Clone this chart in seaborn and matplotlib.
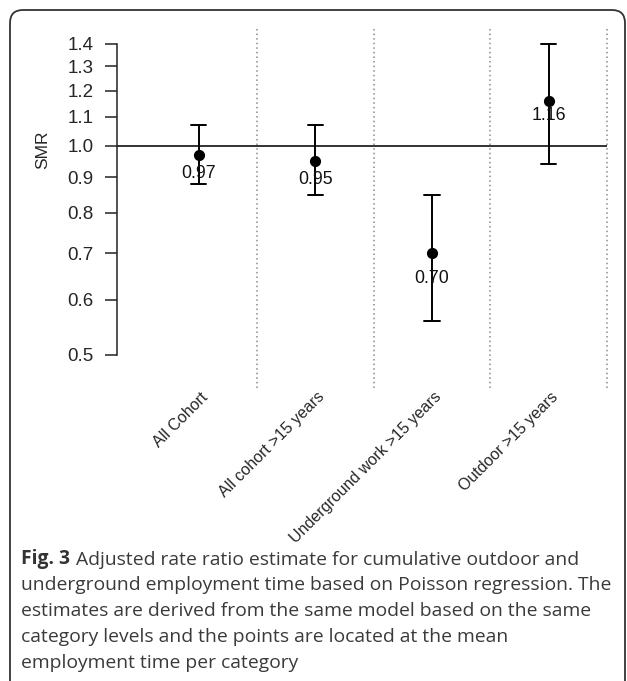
import numpy as np
import pandas as pd
import matplotlib.pyplot as plt
import seaborn as sns
from matplotlib.patches import FancyBboxPatch
from matplotlib.ticker import NullLocator
from matplotlib.transforms import ScaledTranslation

# --------------- DATA ---------------
groups = ["All Cohort", "All cohort >15 years", "Underground work >15 years", "Outdoor >15 years"]
smr = [0.97, 0.95, 0.70, 1.16]
ci_low = [0.88, 0.85, 0.56, 0.94]
ci_high = [1.07, 1.07, 0.85, 1.40]
y_ticks = [0.5, 0.6, 0.7, 0.8, 0.9, 1.0, 1.1, 1.2, 1.3, 1.4]

caption_bold = "Fig. 3"
caption_lines = [
    "Adjusted rate ratio estimate for cumulative outdoor and",
    "underground employment time based on Poisson regression. The",
    "estimates are derived from the same model based on the same",
    "category levels and the points are located at the mean",
    "employment time per category",
]

# long form: lower, estimate, upper per group -> median is the estimate, full range is the CI
df = pd.DataFrame({
    "group": np.repeat(groups, 3),
    "smr": np.column_stack([ci_low, smr, ci_high]).ravel(),
})

# --------------- PLOT ---------------
sns.set_theme(style="white")
plt.rcParams["font.family"] = ["Liberation Sans", "DejaVu Sans"]

fig = plt.figure(figsize=(6.27, 6.81), dpi=100)
ax = fig.add_axes([117 / 627, 1 - 388 / 681, 490 / 627, 361 / 681])
ax.set_yscale("log")

sns.pointplot(data=df, x="group", y="smr", order=groups, estimator="median",
              errorbar=("pi", 100), capsize=0.13, color="black",
              linestyle="none", marker="o", markersize=6,
              err_kws={"linewidth": 1.4}, ax=ax)

ax.axhline(1.0, color="#222222", lw=1.3, zorder=1)
for x in np.arange(len(groups)) + 0.5:
    ax.axvline(x, color="#8a8a8a", ls=(0, (1, 2)), lw=1.1, clip_on=False, zorder=0)

ax.set_xlim(-0.7, len(groups) - 0.5)
ax.set_ylim(0.448, 1.481)

# value labels under each point
for i, v in enumerate(smr):
    ax.text(i, v - 0.057, f"{v:.2f}", ha="center", va="center", fontsize=12.8, color="#111111")

# y axis in R style
ax.set_yticks(y_ticks)
ax.set_yticklabels([f"{t:.1f}" for t in y_ticks], fontsize=13.5)
ax.yaxis.set_minor_locator(NullLocator())
ax.tick_params(axis="y", length=8.4, width=1.1, pad=8.6, color="#222222", left=True)
for side in ["top", "right", "bottom"]:
    ax.spines[side].set_visible(False)
ax.spines["left"].set_bounds(0.5, 1.4)
ax.spines["left"].set_linewidth(1.1)
ax.spines["left"].set_color("#222222")
ax.set_ylabel("")
ax.text(-0.151, 0.659, "SMR", transform=ax.transAxes, rotation=90,
        ha="center", va="center", fontsize=12.5)

# rotated category labels
ax.set_xlabel("")
ax.set_xticks(range(len(groups)))
ax.set_xticklabels(groups, rotation=45, ha="right", rotation_mode="anchor", fontsize=11.5)
ax.tick_params(axis="x", length=0, pad=1)
for lab in ax.get_xticklabels():
    lab.set_transform(lab.get_transform() + ScaledTranslation(1 / 72, 0, fig.dpi_scale_trans))

# --------------- FRAME AND CAPTION ---------------
fig.add_artist(FancyBboxPatch((0.10, -0.3), 6.15, 6.71 + 0.3,
                              boxstyle="round,pad=0,rounding_size=0.13",
                              transform=fig.dpi_scale_trans, fill=False,
                              ec="#333333", lw=1.3))

cap_font = ["Open Sans", "DejaVu Sans"]
cap_size = 13.9
base_y = 564
step = 26
t_bold = fig.text(21 / 627, 1 - base_y / 681, caption_bold, family=cap_font,
                  weight="bold", fontsize=cap_size, color="#333333", va="baseline")
ax.annotate(caption_lines[0], xy=(1, 0), xycoords=t_bold, xytext=(4, 0),
            textcoords="offset points", ha="left", va="bottom", family=cap_font,
            fontsize=cap_size, color="#3a3a3a", annotation_clip=False)
for k, line in enumerate(caption_lines[1:], start=1):
    fig.text(21 / 627, 1 - (base_y + k * step) / 681, line, family=cap_font,
             fontsize=cap_size, color="#3a3a3a", va="baseline")

fig.savefig("out.png", dpi=100)
